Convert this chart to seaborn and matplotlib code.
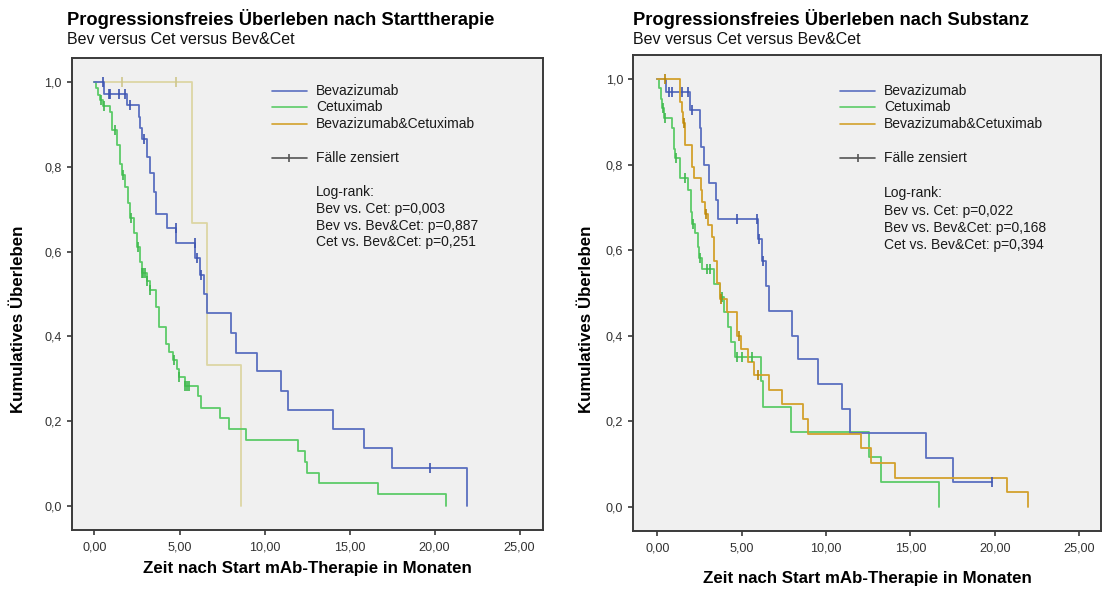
import numpy as np
import pandas as pd
import matplotlib
matplotlib.use("Agg")
import matplotlib.pyplot as plt
from matplotlib.lines import Line2D
import seaborn as sns

# ---------------- data ----------------
# Left panel: by start therapy
L_BEV_T = [0.55, 1.92, 2.60, 2.70, 2.80, 3.06, 3.29, 3.49, 3.62, 4.24, 4.82, 5.94, 6.20, 6.45, 6.59,
           8.00, 8.35, 9.57, 10.94, 11.39, 14.04, 15.84, 17.47, 21.88]
L_BEV_S = [0.973, 0.946, 0.919, 0.892, 0.865, 0.824, 0.785, 0.740, 0.689, 0.655, 0.620, 0.585, 0.545,
           0.500, 0.454, 0.407, 0.361, 0.317, 0.271, 0.226, 0.181, 0.136, 0.090, 0.0]
L_BEV_C = [0.50, 0.84, 0.94, 1.43, 1.82, 2.06, 2.90, 4.81, 5.90, 6.04, 6.27, 19.73]

L_CET_T = [0.10, 0.20, 0.35, 0.50, 0.90, 1.05, 1.30, 1.50, 1.62, 1.80, 2.00, 2.08, 2.30, 2.50, 2.70,
           2.78, 3.06, 3.25, 3.60, 3.80, 4.18, 4.40, 4.60, 4.85, 4.95, 5.30, 6.10, 6.24, 7.37, 7.90,
           8.94, 11.95, 12.40, 12.50, 13.20, 16.67, 20.65]
L_CET_S = [0.986, 0.970, 0.958, 0.944, 0.930, 0.887, 0.852, 0.808, 0.780, 0.753, 0.714, 0.680, 0.643,
           0.612, 0.576, 0.550, 0.530, 0.510, 0.470, 0.423, 0.383, 0.364, 0.344, 0.324, 0.305, 0.283,
           0.258, 0.231, 0.206, 0.180, 0.155, 0.129, 0.104, 0.078, 0.053, 0.027, 0.0]
L_CET_C = [0.40, 0.55, 1.20, 1.69, 2.12, 2.57, 2.80, 2.88, 2.95, 3.10, 3.29, 4.67, 4.98, 5.35, 5.45, 5.55]

L_BC_T = [5.75, 6.63, 8.63]
L_BC_S = [0.667, 0.333, 0.0]
L_BC_C = [1.59, 4.82]

# Right panel: by substance
R_BEV_T = [0.52, 1.94, 2.53, 2.60, 2.77, 3.06, 3.48, 3.62, 5.99, 6.22, 6.44, 6.62, 8.00, 8.32, 9.54,
           10.97, 11.44, 15.90, 17.55]
R_BEV_S = [0.970, 0.928, 0.885, 0.842, 0.800, 0.758, 0.718, 0.674, 0.627, 0.575, 0.516, 0.459, 0.400,
           0.345, 0.286, 0.229, 0.172, 0.114, 0.057]
R_BEV_C = [0.71, 0.85, 1.44, 1.84, 2.04, 4.74, 5.90, 6.05, 6.28, 19.82]

R_CET_T = [0.12, 0.22, 0.26, 0.40, 0.85, 1.01, 1.08, 1.35, 1.84, 2.00, 2.05, 2.23, 2.43, 2.48, 2.63,
           3.36, 3.71, 3.98, 4.17, 4.35, 4.60, 6.13, 6.25, 7.90, 12.55, 13.24, 16.72]
R_CET_S = [0.979, 0.955, 0.932, 0.909, 0.885, 0.838, 0.815, 0.768, 0.740, 0.690, 0.662, 0.640, 0.608,
           0.583, 0.556, 0.522, 0.491, 0.456, 0.421, 0.386, 0.351, 0.293, 0.234, 0.175, 0.117, 0.058, 0.0]
R_CET_C = [0.36, 0.46, 1.11, 1.64, 2.10, 2.53, 2.92, 3.12, 3.85, 4.70, 5.00, 5.60]

R_BC_T = [1.35, 1.45, 1.54, 1.64, 2.04, 2.17, 2.57, 2.63, 2.83, 3.03, 3.22, 3.35, 3.52, 3.71, 4.15,
          4.70, 4.75, 4.99, 5.39, 5.73, 6.62, 7.37, 8.61, 8.95, 12.07, 12.67, 14.09, 20.70, 21.99]
R_BC_S = [0.948, 0.923, 0.897, 0.846, 0.795, 0.768, 0.740, 0.713, 0.686, 0.659, 0.630, 0.576, 0.523,
          0.487, 0.456, 0.427, 0.399, 0.369, 0.339, 0.308, 0.273, 0.240, 0.205, 0.171, 0.137, 0.103,
          0.068, 0.034, 0.0]
R_BC_C = [0.46, 1.58, 2.89, 3.80, 4.82, 5.99]

GROUPS = ["Bevazizumab", "Cetuximab", "Bevazizumab&Cetuximab"]
CENSOR_LABEL = "Fälle zensiert"
TITLES = ["Progressionsfreies Überleben nach Starttherapie", "Progressionsfreies Überleben nach Substanz"]
SUBTITLE = "Bev versus Cet versus Bev&Cet"
LOGRANK_LEFT = ["Log-rank:", "Bev vs. Cet: p=0,003", "Bev vs. Bev&Cet: p=0,887", "Cet vs. Bev&Cet: p=0,251"]
LOGRANK_RIGHT = ["Log-rank:", "Bev vs. Cet: p=0,022", "Bev vs. Bev&Cet: p=0,168", "Cet vs. Bev&Cet: p=0,394"]
XLABEL = "Zeit nach Start mAb-Therapie in Monaten"
YLABEL = "Kumulatives Überleben"
XTICKS = [0, 5, 10, 15, 20, 25]
XTICKLABELS = ["0,00", "5,00", "10,00", "15,00", "20,00", "25,00"]
YTICKS = [0.0, 0.2, 0.4, 0.6, 0.8, 1.0]
YTICKLABELS = ["0,0", "0,2", "0,4", "0,6", "0,8", "1,0"]

# ---------------- style ----------------
sns.set_theme(style="white")
plt.rcParams["font.family"] = ["Liberation Sans", "DejaVu Sans"]

C_BEV = "#5a6fc0"
C_CET = "#5ccb68"
C_BC = "#d3a12c"
C_BC_PALE = "#ddd6a4"
C_AX = "#3a3a3a"

W, H = 1102, 590
fig = plt.figure(figsize=(W / 100, H / 100), dpi=100)
fig.patch.set_facecolor("white")


def fx(px):
    return px / W


def fy(py):
    return 1 - py / H


def km_frame(T, S, C):
    x = [0.0] + list(T)
    y = [1.0] + list(S)
    if C and max(C) > T[-1]:
        x.append(max(C))
        y.append(S[-1])
    T_arr = np.asarray(T)
    cy = []
    for c in C:
        i = np.searchsorted(T_arr, c, side="right")
        cy.append(1.0 if i == 0 else S[i - 1])
    return pd.DataFrame({"t": x, "s": y}), pd.DataFrame({"t": C, "s": cy})


def make_axes(box, xlim, ylim):
    l, r, t, b = box
    ax = fig.add_axes([fx(l), fy(b), fx(r) - fx(l), fy(t) - fy(b)])
    ax.set_facecolor("#f0f0f0")
    ax.set_xlim(*xlim)
    ax.set_ylim(*ylim)
    for sp in ax.spines.values():
        sp.set_color(C_AX)
        sp.set_linewidth(1.4)
    ax.set_xticks(XTICKS)
    ax.set_xticklabels(XTICKLABELS)
    ax.set_yticks(YTICKS)
    ax.set_yticklabels(YTICKLABELS)
    ax.tick_params(axis="both", which="both", direction="out", length=3.6, width=1.2, color=C_AX,
                   labelsize=9.1, labelcolor="#333333", left=True, bottom=True)
    ax.tick_params(axis="y", pad=3.6)
    ax.tick_params(axis="x", pad=5.0)
    return ax


def draw_series(ax, T, S, C, color, mcolor=None):
    line_df, cens_df = km_frame(T, S, C)
    sns.lineplot(data=line_df, x="t", y="s", drawstyle="steps-post", color=color, linewidth=1.3,
                 estimator=None, sort=False, ax=ax, zorder=2)
    sns.scatterplot(data=cens_df, x="t", y="s", marker="|", s=45, color=mcolor or color,
                    linewidth=1.2, ax=ax, zorder=3)


def legend_block(line_x, text_x, rows, lograng):
    cols = [C_BEV, C_CET, C_BC]
    for i, (lab, c) in enumerate(zip(GROUPS, cols)):
        fig.add_artist(Line2D([fx(line_x[0]), fx(line_x[1])], [fy(rows[i])] * 2, color=c, lw=1.2))
        fig.text(fx(text_x), fy(rows[i]), lab, fontsize=10, va="center", ha="left", color="#1a1a1a")
    fig.add_artist(Line2D([fx(line_x[0]), fx(line_x[1])], [fy(rows[3])] * 2, color="#555555", lw=1.2))
    fig.add_artist(Line2D([fx((line_x[0] + line_x[1]) / 2)], [fy(rows[3])], color="#555555",
                          marker="|", markersize=6, markeredgewidth=1.2))
    fig.text(fx(text_x), fy(rows[3]), CENSOR_LABEL, fontsize=10, va="center", ha="left", color="#1a1a1a")
    for j, s in enumerate(lograng):
        fig.text(fx(text_x), fy(rows[4 + j]), s, fontsize=10, va="center", ha="left", color="#1a1a1a")


def labels(ax, ylab_x, ylab_y, xlab_y):
    ax.set_xlabel(XLABEL, fontsize=12.2, fontweight="bold", color="black", va="center")
    ax.xaxis.set_label_coords(0.5, xlab_y)
    ax.set_ylabel(YLABEL, fontsize=12.2, fontweight="bold", color="black", va="center")
    ax.yaxis.set_label_coords(ylab_x, ylab_y)


# ---- left panel ----
axL = make_axes((71.7, 542.7, 58.3, 530.0), (-1.34, 26.36), (-0.0574, 1.0567))
draw_series(axL, L_BC_T, L_BC_S, L_BC_C, C_BC_PALE, "#cfc68c")
draw_series(axL, L_CET_T, L_CET_S, L_CET_C, C_CET, "#3fb84e")
draw_series(axL, L_BEV_T, L_BEV_S, L_BEV_C, C_BEV, "#3e55b0")
labels(axL, -0.113, 0.447, -0.081)

# ---- right panel ----
axR = make_axes((633.3, 1101.0, 55.0, 530.7), (-1.42, 26.3), (-0.0562, 1.0569))
draw_series(axR, R_CET_T, R_CET_S, R_CET_C, C_CET, "#3fb84e")
draw_series(axR, R_BEV_T, R_BEV_S, R_BEV_C, C_BEV, "#3e55b0")
draw_series(axR, R_BC_T, R_BC_S, R_BC_C, C_BC, "#b8860b")
labels(axR, -0.099, 0.444, -0.100)

# legends
legend_block((271.7, 306.7), 316.0, [90.7, 107.3, 124.0, 157.7, 192.3, 209.0, 225.7, 242.3], LOGRANK_LEFT)
legend_block((840.0, 875.0), 884.3, [90.7, 106.7, 124.0, 158.3, 193.3, 211.0, 227.7, 245.0], LOGRANK_RIGHT)

# titles
for x0, t in zip((67.0, 633.0), TITLES):
    fig.text(fx(x0), fy(19.0), t, fontsize=13.2, fontweight="bold", va="center", ha="left", color="black")
    fig.text(fx(x0), fy(39.5), SUBTITLE, fontsize=11.5, va="center", ha="left", color="#111111")

fig.savefig("out.png", dpi=100, facecolor="white")
